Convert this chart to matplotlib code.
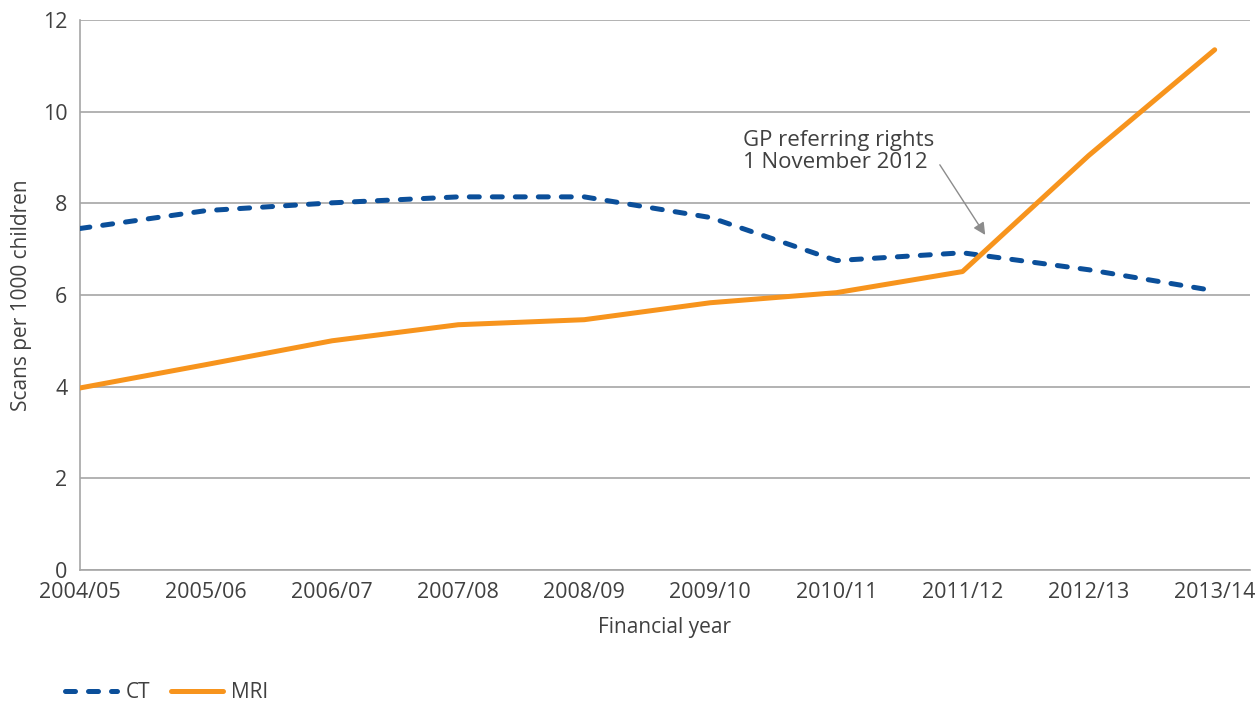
#  Scans per 1000 children, CT vs MRI, by financial year

import numpy as np
import matplotlib
matplotlib.use('Agg')
import matplotlib.pyplot as plt

plt.rcParams['font.family'] = ['Open Sans', 'DejaVu Sans']

#  Data
years = ['2004/05', '2005/06', '2006/07', '2007/08', '2008/09',
         '2009/10', '2010/11', '2011/12', '2012/13', '2013/14']
ct = [7.45, 7.84, 8.01, 8.14, 8.14, 7.69, 6.75, 6.92, 6.55, 6.09]
mri = [3.97, 4.48, 5.00, 5.35, 5.46, 5.83, 6.05, 6.51, 9.04, 11.35]

grey_text = '#404040'
grey_line = '#a6a6a6'

fig = plt.figure(figsize=(12.55, 7.01), dpi=100)
ax = fig.add_axes([0.0637, 0.187, 0.9323, 0.7845])

xv = np.arange(len(years))
ax.plot(xv, ct, color='#0b4f9a', lw=3.6, linestyle=(0, (2, 2.6)),
        dash_capstyle='round', label='CT', zorder=3)
ax.plot(xv, mri, color='#f7941d', lw=3.6, solid_capstyle='round',
        label='MRI', zorder=3)

ax.set_xlim(0, 9.28)
ax.set_ylim(0, 12)
ax.set_yticks(range(0, 13, 2))
ax.set_xticks(xv)
ax.set_xticklabels(years)
ax.grid(axis='y', color=grey_line, lw=1.2)
ax.set_axisbelow(True)
for s in ['top', 'right']:
    ax.spines[s].set_visible(False)
for s in ['left', 'bottom']:
    ax.spines[s].set_color(grey_line)
    ax.spines[s].set_linewidth(1.2)
ax.tick_params(length=0, labelsize=15.5, colors=grey_text, pad=9)
ax.set_xlabel('Financial year', fontsize=15, color=grey_text, labelpad=10)
ax.set_ylabel('Scans per 1000 children', fontsize=15, color=grey_text, labelpad=8)

#  Annotation for the GP referring rights change
ax.text(5.26, 9.6, 'GP referring rights\n1 November 2012', fontsize=16,
        color=grey_text, ha='left', va='top', linespacing=1.05)
ax.annotate('', xy=(7.18, 7.31), xytext=(6.82, 8.84),
            arrowprops=dict(arrowstyle='-|>', color='#8c8c8c', lw=1, mutation_scale=18,
                            shrinkA=0, shrinkB=0))

fig.legend(loc='lower left', bbox_to_anchor=(0.037, -0.03), ncol=2, frameon=False,
           fontsize=15, labelcolor=grey_text, handlelength=2.5, columnspacing=1.0,
           handletextpad=0.4)

plt.savefig('out.png', dpi=100)
